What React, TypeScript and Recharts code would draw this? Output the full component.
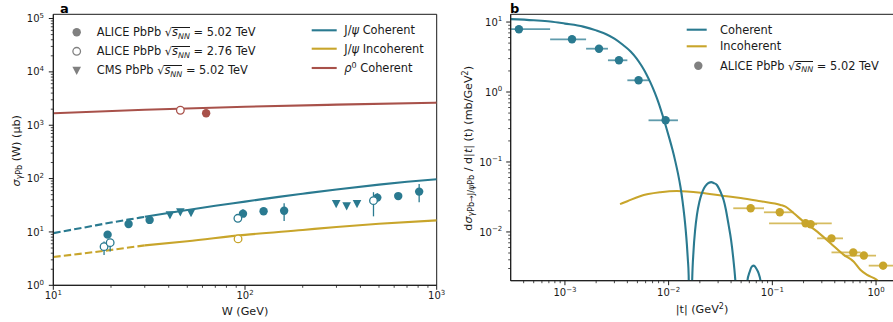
import React from 'react';
import { ComposedChart, Line, Scatter, XAxis, YAxis, ErrorBar, ReferenceArea } from 'recharts';

const TEAL = '#2a7a90';
const GOLD = '#c8a52b';
const RED = '#a8514a';
const GRAY = '#808080';
const INK = '#1a1a1a';
const FONT = '"DejaVu Sans", Verdana, sans-serif';

// ---------------- Panel a : model curves ----------------
const W_COH_DASH = [10, 15, 20, 25, 30];
const SIG_COH_DASH = [9.5, 12.4, 15.0, 17.2, 19.2];
const W_COH = [30, 50, 70, 100, 150, 200, 300, 500, 700, 1000];
const SIG_COH = [19.2, 25.8, 31.0, 37.0, 45.5, 52, 62.5, 77, 87, 97];
const W_INC_DASH = [10, 20, 30];
const SIG_INC_DASH = [3.4, 4.6, 5.6];
const W_INC = [30, 50, 100, 200, 300, 500, 1000];
const SIG_INC = [5.6, 6.7, 8.8, 10.9, 12.4, 14.2, 16.5];
const W_RHO = [10, 30, 100, 300, 1000];
const SIG_RHO = [1680, 1950, 2220, 2430, 2650];

// ---------------- Panel a : data points ----------------
const W_A502 = [19.2, 24.7, 31.8, 97.6, 125, 160, 490, 630, 810];
const SIG_A502 = [8.9, 14.1, 16.8, 22, 24.4, 25, 44, 47, 57];
const LO_A502 = [1.2, 1.5, 1.5, 2.6, 2, 9, 7, 4, 21];
const HI_A502 = [1.2, 1.5, 1.5, 4.6, 2, 9.5, 9, 4, 22];
const W_A276 = [18.4, 19.8, 91.8, 468];
const SIG_A276 = [5.3, 6.3, 18, 38.6];
const LO_A276 = [1.6, 2, 2, 19];
const HI_A276 = [1.3, 1, 2, 17];
const W_CMS = [40.6, 46, 52.3, 299, 339, 384];
const SIG_CMS = [20.8, 23.7, 23, 34, 30.7, 34];
const ERR_CMS = [2.5, 3, 2.5, 3, 3, 3];
const W_A276_INC = [92];
const SIG_A276_INC = [7.4];
const ERR_A276_INC = [0.7];
const W_RHO_A276 = [46];
const SIG_RHO_A276 = [1910];
const W_RHO_A502 = [62.7];
const SIG_RHO_A502 = [1680];
const ERR_RHO = [120];

// ---------------- Panel b : model curves ----------------
const T_COH = [
  3e-4, 5e-4, 7.2e-4, 1e-3, 1.5e-3, 2e-3, 2.5e-3, 3e-3, 3.64e-3, 4.3e-3, 4.9e-3, 5.5e-3, 6.1e-3, 6.7e-3,
  7.35e-3, 8e-3, 8.8e-3, 9.5e-3, 0.0102, 0.0109, 0.0116, 0.0123, 0.013, 0.0136, 0.0142, 0.0146, 0.015,
  0.0153, 0.0156, 0.0162,
  0.0168, 0.0174, 0.018, 0.01875, 0.0198, 0.0209, 0.022, 0.0234, 0.0245, 0.0258, 0.0272, 0.0292,
  0.031, 0.0325, 0.0339, 0.0355, 0.0379, 0.04, 0.0418, 0.0439, 0.046, 0.0495,
  0.054, 0.0574, 0.0605, 0.0635, 0.0665, 0.07, 0.0735, 0.077, 0.081, 0.086,
];
const SIG_COH_T = [
  11.0, 10.6, 10.2, 9.5, 8.6, 7.6, 6.7, 5.8, 4.7, 3.8, 3.03, 2.35, 1.8, 1.35,
  0.98, 0.7, 0.45, 0.308, 0.214, 0.149, 0.102, 0.0687, 0.0442, 0.0281, 0.0164, 0.0108, 0.00658,
  0.00417, 0.00243, 1e-6,
  0.0016, 0.0055, 0.0105, 0.0175, 0.027, 0.0355, 0.0425, 0.048, 0.0505, 0.0515, 0.05, 0.0469,
  0.04, 0.034, 0.0286, 0.0215, 0.0125, 0.0077, 0.0045, 0.0021, 0.0007, 1e-6,
  0.0008, 0.002, 0.0027, 0.0032, 0.0033, 0.003, 0.0026, 0.002, 0.001, 1e-6,
];
const T_INC = [3.4e-3, 4e-3, 5.3e-3, 8.3e-3, 0.012, 0.0204, 0.0339, 0.0495, 0.077, 0.12, 0.134, 0.161, 0.201, 0.271, 0.364, 0.489, 0.61, 0.71, 0.82, 1.0, 1.08];
const SIG_INC_T = [0.025, 0.0275, 0.0325, 0.0369, 0.0385, 0.0364, 0.0327, 0.0306, 0.0274, 0.0243, 0.023, 0.0185, 0.014, 0.0101, 0.0069, 0.0047, 0.00376, 0.00286, 0.00243, 0.0021, 0.0019];

// ---------------- Panel b : data points ----------------
const T_DCOH = [3.6e-4, 1.17e-3, 2.13e-3, 3.32e-3, 5.13e-3, 9.35e-3];
const SIG_DCOH = [7.9, 5.67, 4.16, 2.84, 1.47, 0.394];
const TLO_DCOH = [3.0e-4, 7.2e-4, 1.6e-3, 2.6e-3, 4.0e-3, 6.4e-3];
const THI_DCOH = [7.2e-4, 1.6e-3, 2.6e-3, 4.0e-3, 6.6e-3, 1.23e-2];
const SERR_DCOH = [0.3, 0.2, 0.15, 0.1, 0.06, 0.03];
const T_DINC = [0.0618, 0.118, 0.209, 0.234, 0.372, 0.603, 0.763, 1.17];
const SIG_DINC = [0.0218, 0.0191, 0.0133, 0.0129, 0.0081, 0.0051, 0.0046, 0.0033];
const TLO_DINC = [0.042, 0.083, 0.093, 0.2, 0.27, 0.372, 0.49, 0.85];
const THI_DINC = [0.083, 0.16, 0.374, 0.27, 0.48, 0.71, 1.0, 1.6];
const SERR_DINC = [0.0018, 0.0016, 0.0011, 0.0011, 0.0008, 0.0005, 0.0005, 0.0004];

// ---------------- helpers ----------------
const pts = (xs: number[], ys: number[]) => xs.map((x, i) => ({ x, y: ys[i] }));
const ptsErrY = (xs: number[], ys: number[], lo: number[], hi: number[]) =>
  xs.map((x, i) => ({ x, y: ys[i], ey: [lo[i], hi[i]] }));
const ptsErrXY = (xs: number[], ys: number[], xlo: number[], xhi: number[], se: number[]) =>
  xs.map((x, i) => ({ x, y: ys[i], ex: [x - xlo[i], xhi[i] - x], ey: [se[i], se[i]] }));

const decadeTicks = (lo: number, hi: number) => {
  const out: number[] = [];
  for (let e = lo; e <= hi; e++) for (let m = 1; m < 10; m++) out.push(parseFloat((m * Math.pow(10, e)).toPrecision(6)));
  return out;
};
const X_TICKS_A = [...decadeTicks(1, 2), 1000];
const Y_TICKS_A = [...decadeTicks(0, 4), 1e5];
const X_TICKS_B = [...decadeTicks(-4, -1).filter((v) => v >= 3.5e-4), 1];
const Y_TICKS_B = [...decadeTicks(-3, 0).filter((v) => v >= 2.5e-3), 10];

const isMajor = (v: number) => Math.abs(Math.log10(v) - Math.round(Math.log10(v))) < 1e-6;
const expStr = (v: number) => {
  const e = Math.round(Math.log10(v));
  return e < 0 ? '\u2212' + String(-e) : String(e);
};

const makeXTick = (dy: number) => (props: any) => {
  const { x, y, payload } = props;
  const v = payload.value;
  const major = isMajor(v);
  return (
    <g>
      <line x1={x} x2={x} y1={y} y2={y + (major ? 4.5 : 2.5)} stroke={INK} strokeWidth={major ? 1 : 0.8} />
      {major && (
        <text x={x} y={y + dy} textAnchor="middle" fontFamily={FONT} fontSize={10} fill={INK}>
          10<tspan fontSize={7} dy={-4.2}>{expStr(v)}</tspan>
        </text>
      )}
    </g>
  );
};
const makeYTick = (dx: number) => (props: any) => {
  const { x, y, payload } = props;
  const v = payload.value;
  const major = isMajor(v);
  return (
    <g>
      <line x1={x} x2={x - (major ? 4.5 : 2.5)} y1={y} y2={y} stroke={INK} strokeWidth={major ? 1 : 0.8} />
      {major && (
        <text x={x - dx} y={y + 3.6} textAnchor="end" fontFamily={FONT} fontSize={10} fill={INK}>
          10<tspan fontSize={7} dy={-4.2}>{expStr(v)}</tspan>
        </text>
      )}
    </g>
  );
};

const filledCircle = (color: string) => (p: any) => <circle cx={p.cx} cy={p.cy} r={4.2} fill={color} />;
const openCircle = (color: string) => (p: any) => (
  <circle cx={p.cx} cy={p.cy} r={3.8} fill="#ffffff" stroke={color} strokeWidth={1.3} />
);
const triDown = (color: string) => (p: any) => (
  <path d={`M${p.cx - 4.3},${p.cy - 3.6} L${p.cx + 4.3},${p.cy - 3.6} L${p.cx},${p.cy + 4.6} Z`} fill={color} />
);

const Sqrt = () => (
  <span>
    √
    <span style={{ display: 'inline-block', borderTop: '1px solid #1a1a1a', lineHeight: '0.85em' }}>
      <i>s</i>
      <i style={{ fontSize: '0.7em', position: 'relative', top: '0.3em' }}>NN</i>
    </span>
  </span>
);

const LegendText = ({ x, y, children }: { x: number; y: number; children: React.ReactNode }) => (
  <div
    style={{
      position: 'absolute',
      left: x,
      top: y - 7,
      height: 14,
      lineHeight: '14px',
      fontSize: 11.4,
      fontFamily: FONT,
      color: INK,
      whiteSpace: 'nowrap',
    }}
  >
    {children}
  </div>
);

const axisStyle = { stroke: INK, strokeWidth: 1 };

export default function App() {
  return (
    <div
      style={{
        position: 'absolute',
        left: 0,
        top: 0,
        width: 893,
        height: 322,
        overflow: 'hidden',
        background: '#ffffff',
        fontFamily: FONT,
      }}
    >
      {/* Panel a */}
      <div style={{ position: 'absolute', left: 0, top: 0 }}>
        <ComposedChart width={450} height={322} margin={{ top: 14.3, right: 13.3, bottom: 0, left: 0 }}>
          <XAxis
            dataKey="x"
            type="number"
            scale="log"
            domain={[10, 1000]}
            allowDataOverflow
            ticks={X_TICKS_A}
            interval={0}
            tickLine={false}
            tickSize={0}
            tickMargin={0}
            tick={makeXTick(14)}
            height={36.7}
            axisLine={axisStyle}
          />
          <YAxis
            dataKey="y"
            type="number"
            scale="log"
            domain={[1, 1.2e5]}
            allowDataOverflow
            ticks={Y_TICKS_A}
            interval={0}
            tickLine={false}
            tickSize={0}
            tickMargin={0}
            tick={makeYTick(9.3)}
            width={53.3}
            axisLine={axisStyle}
          />
          <ReferenceArea x1={10} x2={1000} y1={1} y2={1.2e5} fill="none" stroke={INK} strokeWidth={1} ifOverflow="visible" />
          <Line data={pts(W_RHO, SIG_RHO)} dataKey="y" type="monotone" stroke={RED} strokeWidth={2.1} dot={false} activeDot={false} isAnimationActive={false} />
          <Line data={pts(W_INC_DASH, SIG_INC_DASH)} dataKey="y" type="monotone" stroke={GOLD} strokeWidth={2.1} strokeDasharray="7.4 3.2" dot={false} activeDot={false} isAnimationActive={false} />
          <Line data={pts(W_INC, SIG_INC)} dataKey="y" type="monotone" stroke={GOLD} strokeWidth={2.1} dot={false} activeDot={false} isAnimationActive={false} />
          <Line data={pts(W_COH_DASH, SIG_COH_DASH)} dataKey="y" type="monotone" stroke={TEAL} strokeWidth={2.1} strokeDasharray="7.4 3.2" dot={false} activeDot={false} isAnimationActive={false} />
          <Line data={pts(W_COH, SIG_COH)} dataKey="y" type="monotone" stroke={TEAL} strokeWidth={2.1} dot={false} activeDot={false} isAnimationActive={false} />

          <Scatter data={ptsErrY(W_RHO_A276, SIG_RHO_A276, ERR_RHO, ERR_RHO)} dataKey="y" shape={openCircle(RED)} isAnimationActive={false}>
            <ErrorBar dataKey="ey" direction="y" width={0} stroke={RED} strokeWidth={1.3} />
          </Scatter>
          <Scatter data={ptsErrY(W_RHO_A502, SIG_RHO_A502, ERR_RHO, ERR_RHO)} dataKey="y" shape={filledCircle(RED)} isAnimationActive={false}>
            <ErrorBar dataKey="ey" direction="y" width={0} stroke={RED} strokeWidth={1.3} />
          </Scatter>
          <Scatter data={ptsErrY(W_A276_INC, SIG_A276_INC, ERR_A276_INC, ERR_A276_INC)} dataKey="y" shape={openCircle(GOLD)} isAnimationActive={false}>
            <ErrorBar dataKey="ey" direction="y" width={0} stroke={GOLD} strokeWidth={1.3} />
          </Scatter>
          <Scatter data={ptsErrY(W_CMS, SIG_CMS, ERR_CMS, ERR_CMS)} dataKey="y" shape={triDown(TEAL)} isAnimationActive={false}>
            <ErrorBar dataKey="ey" direction="y" width={0} stroke={TEAL} strokeWidth={1.3} />
          </Scatter>
          <Scatter data={ptsErrY(W_A502, SIG_A502, LO_A502, HI_A502)} dataKey="y" shape={filledCircle(TEAL)} isAnimationActive={false}>
            <ErrorBar dataKey="ey" direction="y" width={0} stroke={TEAL} strokeWidth={1.3} />
          </Scatter>
          <Scatter data={ptsErrY(W_A276, SIG_A276, LO_A276, HI_A276)} dataKey="y" shape={openCircle(TEAL)} isAnimationActive={false}>
            <ErrorBar dataKey="ey" direction="y" width={0} stroke={TEAL} strokeWidth={1.3} />
          </Scatter>
        </ComposedChart>
      </div>

      {/* Panel b */}
      <div style={{ position: 'absolute', left: 450, top: 0 }}>
        <ComposedChart width={470} height={322} margin={{ top: 14.3, right: 25.7, bottom: 0, left: 0 }}>
          <XAxis
            dataKey="x"
            type="number"
            scale="log"
            domain={[3e-4, 1.5]}
            allowDataOverflow
            ticks={X_TICKS_B}
            interval={0}
            tickLine={false}
            tickSize={0}
            tickMargin={0}
            tick={makeXTick(15.5)}
            height={41.3}
            axisLine={axisStyle}
          />
          <YAxis
            dataKey="y"
            type="number"
            scale="log"
            domain={[2.01e-3, 12.9]}
            allowDataOverflow
            ticks={Y_TICKS_B}
            interval={0}
            tickLine={false}
            tickSize={0}
            tickMargin={0}
            tick={makeYTick(8.4)}
            width={60.7}
            axisLine={axisStyle}
          />
          <ReferenceArea x1={3e-4} x2={1.5} y1={2.01e-3} y2={12.9} fill="none" stroke={INK} strokeWidth={1} ifOverflow="visible" />
          <Line data={pts(T_INC, SIG_INC_T)} dataKey="y" type="monotone" stroke={GOLD} strokeWidth={2.1} dot={false} activeDot={false} isAnimationActive={false} />
          <Line data={pts(T_COH, SIG_COH_T)} dataKey="y" type="monotone" stroke={TEAL} strokeWidth={2.1} dot={false} activeDot={false} isAnimationActive={false} />
          <Scatter data={ptsErrXY(T_DINC, SIG_DINC, TLO_DINC, THI_DINC, SERR_DINC)} dataKey="y" shape={filledCircle(GOLD)} isAnimationActive={false}>
            <ErrorBar dataKey="ex" direction="x" width={0} stroke={GOLD} strokeOpacity={0.75} strokeWidth={1.8} />
            <ErrorBar dataKey="ey" direction="y" width={0} stroke={GOLD} strokeOpacity={0.75} strokeWidth={1.8} />
          </Scatter>
          <Scatter data={ptsErrXY(T_DCOH, SIG_DCOH, TLO_DCOH, THI_DCOH, SERR_DCOH)} dataKey="y" shape={filledCircle(TEAL)} isAnimationActive={false}>
            <ErrorBar dataKey="ex" direction="x" width={0} stroke={TEAL} strokeOpacity={0.75} strokeWidth={1.8} />
            <ErrorBar dataKey="ey" direction="y" width={0} stroke={TEAL} strokeOpacity={0.75} strokeWidth={1.8} />
          </Scatter>
        </ComposedChart>
      </div>

      {/* Labels and legend glyphs */}
      <svg width={893} height={322} style={{ position: 'absolute', left: 0, top: 0, pointerEvents: 'none' }}>
        <text x={60} y={12.5} fontFamily={FONT} fontSize={13} fontWeight="bold" fill="#000">a</text>
        <text x={510} y={12.5} fontFamily={FONT} fontSize={13} fontWeight="bold" fill="#000">b</text>

        <text x={245} y={314.5} textAnchor="middle" fontFamily={FONT} fontSize={11.2} fill={INK}>W (GeV)</text>
        <text x={702} y={312.5} textAnchor="middle" fontFamily={FONT} fontSize={11.2} fill={INK}>
          |t| (GeV<tspan fontSize={8} dy={-4}>2</tspan><tspan dy={4}>)</tspan>
        </text>

        <text transform="translate(19.5,150.8) rotate(-90)" textAnchor="middle" fontFamily={FONT} fontSize={11.2} fill={INK}>
          <tspan fontStyle="italic">σ</tspan>
          <tspan fontSize={8} fontStyle="italic" dy={2.8}>γ</tspan>
          <tspan fontSize={8}>Pb</tspan>
          <tspan dy={-2.8}> (W) (μb)</tspan>
        </text>
        <text transform="translate(471.5,148.3) rotate(-90)" textAnchor="middle" fontFamily={FONT} fontSize={11.2} fill={INK}>
          d<tspan fontStyle="italic">σ</tspan>
          <tspan fontSize={8} fontStyle="italic" dy={2.8}>γ</tspan>
          <tspan fontSize={8}>Pb→J/</tspan>
          <tspan fontSize={8} fontStyle="italic">ψ</tspan>
          <tspan fontSize={8}>Pb</tspan>
          <tspan dy={-2.8}> / d|</tspan>
          <tspan fontStyle="italic">t</tspan>
          <tspan>| (t) (mb/GeV</tspan>
          <tspan fontSize={8} dy={-4}>2</tspan>
          <tspan dy={4}>)</tspan>
        </text>

        {/* legend a markers */}
        <circle cx={76.7} cy={32.3} r={4.2} fill={GRAY} />
        <circle cx={76.7} cy={51.3} r={3.8} fill="#fff" stroke={GRAY} strokeWidth={1.3} />
        <path d="M72.4,66.7 L81,66.7 L76.7,74.9 Z" fill={GRAY} />
        <line x1={311.7} x2={336.7} y1={30.3} y2={30.3} stroke={TEAL} strokeWidth={2.1} />
        <line x1={311.7} x2={336.7} y1={48.7} y2={48.7} stroke={GOLD} strokeWidth={2.1} />
        <line x1={311.7} x2={336.7} y1={68} y2={68} stroke={RED} strokeWidth={2.1} />
        {/* legend b markers */}
        <line x1={686.7} x2={706.7} y1={29.7} y2={29.7} stroke={TEAL} strokeWidth={2.1} />
        <line x1={686.7} x2={706.7} y1={46.3} y2={46.3} stroke={GOLD} strokeWidth={2.1} />
        <circle cx={698.3} cy={65.7} r={4.2} fill={GRAY} />
      </svg>

      <LegendText x={96.7} y={32.3}>ALICE PbPb <Sqrt /> = 5.02 TeV</LegendText>
      <LegendText x={96.7} y={51.3}>ALICE PbPb <Sqrt /> = 2.76 TeV</LegendText>
      <LegendText x={96.7} y={70.3}>CMS PbPb <Sqrt /> = 5.02 TeV</LegendText>
      <LegendText x={344.3} y={30.3}>J/<i>ψ</i> Coherent</LegendText>
      <LegendText x={344.3} y={48.7}>J/<i>ψ</i> Incoherent</LegendText>
      <LegendText x={344.3} y={68}><i>ρ</i><span style={{ fontSize: '0.7em', position: 'relative', top: '-0.55em' }}>0</span> Coherent</LegendText>
      <LegendText x={720} y={29.7}>Coherent</LegendText>
      <LegendText x={720} y={46.3}>Incoherent</LegendText>
      <LegendText x={720} y={65.7}>ALICE PbPb <Sqrt /> = 5.02 TeV</LegendText>
    </div>
  );
}
